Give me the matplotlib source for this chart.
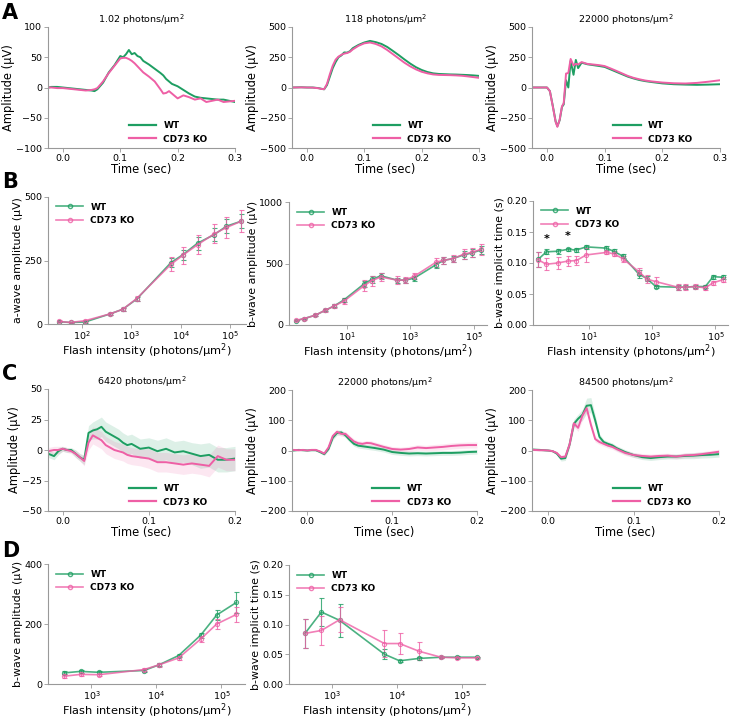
import matplotlib
matplotlib.use("Agg")
import matplotlib.pyplot as plt
from matplotlib.lines import Line2D
import numpy as np

# Colours
WT_COLOR = "#1e9e62"
KO_COLOR = "#ee5fa5"
SPINE_COLOR = "#999999"

# ---------------- Panel A: averaged ERG traces ----------------
t_a1 = [-0.025, -0.02, -0.01, 0.0, 0.01, 0.02, 0.03, 0.04, 0.05, 0.055, 0.06, 0.07, 0.08, 0.09,
        0.10, 0.105, 0.11, 0.115, 0.12, 0.125, 0.13, 0.135, 0.14, 0.15, 0.16, 0.17, 0.175, 0.18,
        0.185, 0.19, 0.20, 0.21, 0.22, 0.23, 0.24, 0.25, 0.26, 0.27, 0.28, 0.29, 0.30]
a1_wt = [0, 1, 1, 0, -1, -2, -3, -4, -5, -6, -3, 8, 25, 37, 52, 50, 55, 62, 55, 57,
         52, 50, 44, 38, 31, 24, 20, 14, 10, 6, 2, -4, -10, -15, -17, -18, -19, -20, -20, -22, -24]
a1_ko = [0, 0, -1, -1, -2, -3, -4, -5, -4, -3, -1, 10, 24, 36, 48, 49, 49, 47, 44, 40,
         35, 30, 25, 18, 10, -3, -10, -9, -6, -10, -18, -13, -16, -20, -18, -24, -22, -20, -24, -23, -22]

t_a2 = [-0.025, -0.01, 0.0, 0.01, 0.02, 0.025, 0.03, 0.035, 0.04, 0.045, 0.05, 0.055, 0.06, 0.065,
        0.07, 0.075, 0.08, 0.09, 0.10, 0.11, 0.12, 0.13, 0.14, 0.15, 0.16, 0.17, 0.18, 0.19, 0.20,
        0.21, 0.22, 0.23, 0.24, 0.25, 0.26, 0.27, 0.28, 0.29, 0.30]
a2_wt = [0, 2, 0, 0, -5, -10, -15, 20, 90, 160, 210, 250, 265, 290, 288, 300, 325, 352, 372, 385,
         375, 360, 335, 302, 268, 232, 198, 168, 145, 128, 117, 112, 110, 108, 107, 105, 103, 100, 96]
a2_ko = [0, 1, 0, -1, -6, -12, -14, 30, 110, 180, 230, 255, 270, 280, 285, 295, 315, 345, 365, 372,
         360, 340, 310, 275, 240, 205, 175, 150, 130, 117, 108, 104, 103, 102, 100, 97, 92, 86, 80]

t_a3 = [-0.025, -0.01, 0.0, 0.005, 0.01, 0.015, 0.018, 0.022, 0.026, 0.029, 0.033, 0.037, 0.041,
        0.046, 0.05, 0.054, 0.06, 0.07, 0.08, 0.09, 0.10, 0.11, 0.12, 0.13, 0.14, 0.15, 0.16, 0.17,
        0.18, 0.19, 0.20, 0.22, 0.24, 0.26, 0.28, 0.30]
a3_wt = [0, 0, 0, -30, -150, -280, -320, -270, -160, -140, 60, 0, 220, 105, 228, 160, 205, 192,
         185, 178, 170, 150, 130, 110, 90, 75, 62, 53, 46, 40, 34, 27, 24, 22, 24, 27]
a3_ko = [0, 0, 0, -30, -155, -285, -325, -265, -155, -130, 115, 120, 236, 182, 196, 190, 210, 195,
         190, 185, 177, 158, 138, 117, 96, 80, 68, 58, 51, 46, 41, 35, 33, 38, 48, 60]

# ---------------- Panel B: intensity-response ----------------
intens_b1 = [35, 60, 118, 380, 680, 1300, 6420, 11000, 22000, 48000, 84500, 170000]
a_wt = [9, 6, 8, 40, 58, 98, 242, 272, 318, 352, 385, 405]
a_wt_err = [3, 2, 3, 4, 5, 8, 18, 20, 25, 25, 28, 28]
a_ko = [10, 6, 13, 40, 58, 100, 235, 270, 312, 355, 380, 405]
a_ko_err = [4, 3, 4, 5, 6, 10, 28, 32, 38, 38, 40, 42]

intens_b = [0.25, 0.45, 1.02, 2.1, 4.0, 8.2, 35, 60, 118, 380, 680, 1300,
            6420, 11000, 22000, 48000, 84500, 170000]
b_wt = [35, 52, 80, 120, 155, 205, 335, 370, 400, 365, 365, 380, 490, 525, 540, 570, 585, 610]
b_wt_err = [5, 6, 8, 10, 12, 15, 25, 25, 25, 20, 20, 20, 25, 25, 25, 30, 30, 32]
b_ko = [38, 52, 80, 120, 155, 195, 320, 360, 390, 365, 365, 395, 510, 525, 540, 575, 590, 615]
b_ko_err = [6, 8, 10, 12, 15, 25, 45, 40, 35, 30, 25, 25, 35, 30, 30, 40, 40, 45]

bt_wt = [0.106, 0.118, 0.119, 0.122, 0.121, 0.126, 0.124, 0.119, 0.111, 0.082, 0.075, 0.062,
         0.061, 0.061, 0.062, 0.062, 0.078, 0.077]
bt_wt_err = [0.012, 0.004, 0.004, 0.003, 0.003, 0.003, 0.003, 0.003, 0.003, 0.006, 0.004, 0.003,
             0.004, 0.003, 0.003, 0.003, 0.003, 0.003]
bt_ko = [0.105, 0.098, 0.100, 0.103, 0.104, 0.113, 0.117, 0.115, 0.107, 0.086, 0.074, 0.070,
         0.061, 0.061, 0.062, 0.060, 0.068, 0.073]
bt_ko_err = [0.012, 0.010, 0.010, 0.008, 0.008, 0.012, 0.003, 0.004, 0.005, 0.006, 0.006, 0.007,
             0.005, 0.005, 0.004, 0.004, 0.003, 0.004]
star_x = [0.45, 2.1]
star_y = [0.131, 0.135]

# ---------------- Panel C: traces with SEM bands ----------------
t_c = [-0.017, -0.01, -0.005, 0.0, 0.005, 0.01, 0.015, 0.02, 0.025, 0.03, 0.035, 0.04, 0.045,
       0.05, 0.055, 0.06, 0.065, 0.07, 0.075, 0.08, 0.09, 0.10, 0.11, 0.12, 0.13, 0.14, 0.15,
       0.16, 0.17, 0.18, 0.19, 0.20]
c1_wt = [-3, -5, -1, 1, 0, 0, -3, -6, -8, 14, 16, 17, 19, 15, 13, 11, 9, 6, 4, 5, 1, 2, -1, 1,
         -2, -1, -3, -5, -4, -8, -8, -7]
c1_wt_sd = [3, 3, 3, 2, 2, 2, 3, 3, 4, 6, 7, 8, 8, 8, 8, 8, 8, 8, 8, 8, 8, 8, 9, 9, 9, 9, 9,
            10, 10, 10, 10, 10]
c1_ko = [-1, 0, 0, 1, 0, -1, -3, -6, -9, 6, 12, 10, 8, 4, 2, 0, -1, -2, -4, -5, -6, -7, -10,
         -10, -11, -12, -11, -12, -13, -5, -8, -8]
c1_ko_sd = [3, 3, 3, 2, 2, 2, 3, 3, 4, 6, 7, 7, 7, 7, 7, 7, 7, 7, 7, 7, 7, 8, 8, 8, 8, 8, 8,
            8, 9, 9, 9, 9]

c2_wt = [0, 2, 1, 0, 1, 1, -5, -12, 5, 42, 58, 60, 50, 35, 22, 16, 14, 12, 10, 8, 3, -5, -8,
         -10, -9, -10, -9, -8, -8, -7, -5, -4]
c2_wt_sd = [3, 3, 3, 2, 2, 3, 4, 5, 6, 8, 8, 8, 8, 8, 8, 8, 8, 8, 8, 8, 8, 8, 8, 8, 8, 8, 8,
            8, 8, 8, 8, 8]
c2_ko = [2, 1, 2, 0, 2, 2, -3, -10, 10, 48, 62, 55, 55, 42, 30, 24, 22, 25, 24, 20, 12, 5, 3,
         5, 10, 8, 10, 12, 15, 17, 18, 18]
c2_ko_sd = [3, 3, 3, 2, 2, 3, 4, 5, 6, 8, 8, 8, 8, 8, 8, 8, 8, 8, 8, 8, 8, 8, 8, 9, 9, 9, 10,
            10, 10, 10, 10, 10]

c3_wt = [3, 2, 1, 0, -2, -10, -27, -25, 20, 88, 105, 118, 148, 150, 100, 45, 28, 22, 17, 8, -5,
         -15, -22, -25, -22, -20, -20, -18, -17, -15, -14, -12]
c3_wt_sd = [3, 3, 3, 2, 3, 5, 8, 8, 10, 15, 15, 18, 25, 25, 18, 10, 8, 8, 8, 8, 8, 8, 8, 8, 8,
            8, 8, 9, 10, 10, 10, 10]
c3_ko = [2, 1, 1, 0, -2, -8, -22, -20, 20, 90, 75, 115, 140, 85, 38, 28, 22, 16, 12, 5, -8,
         -15, -18, -20, -18, -17, -20, -16, -15, -12, -8, -4]
c3_ko_sd = [3, 3, 3, 2, 3, 5, 7, 7, 10, 12, 12, 15, 15, 12, 10, 8, 8, 8, 8, 8, 8, 8, 8, 8, 8,
            8, 8, 8, 8, 8, 8, 8]

# ---------------- Panel D ----------------
intens_d = [380, 680, 1300, 6420, 11000, 22000, 48000, 84500, 170000]
d_amp_wt = [37, 42, 39, 45, 64, 95, 163, 230, 272]
d_amp_wt_err = [5, 5, 4, 4, 5, 6, 8, 18, 35]
d_amp_ko = [26, 32, 31, 48, 64, 87, 150, 200, 232]
d_amp_ko_err = [6, 6, 4, 4, 6, 6, 10, 18, 25]
d_time_wt = [0.085, 0.121, 0.107, 0.050, 0.039, 0.043, 0.045, 0.045, 0.045]
d_time_wt_err = [0.024, 0.023, 0.028, 0.008, 0.002, 0.002, 0.001, 0.002, 0.001]
d_time_ko = [0.085, 0.090, 0.108, 0.068, 0.068, 0.055, 0.045, 0.044, 0.044]
d_time_ko_err = [0.024, 0.024, 0.021, 0.022, 0.018, 0.015, 0.002, 0.002, 0.002]

UNIT = "photons/µm$^2$"
FLASH_LABEL = "Flash intensity (" + UNIT + ")"

W, H = 730, 721
fig = plt.figure(figsize=(W / 100, H / 100), dpi=100)


def px_axes(l, t, r, b):
    return fig.add_axes([l / W, 1 - b / H, (r - l) / W, (b - t) / H])


def style(ax):
    for s in ["top", "right"]:
        ax.spines[s].set_visible(False)
    for s in ["left", "bottom"]:
        ax.spines[s].set_color(SPINE_COLOR)
        ax.spines[s].set_linewidth(0.8)
    ax.tick_params(length=3, width=0.6, color=SPINE_COLOR, labelsize=6.8, pad=1.2)
    ax.tick_params(which="minor", length=0)


def trace_legend(ax):
    handles = [Line2D([], [], color=WT_COLOR, lw=1.6), Line2D([], [], color=KO_COLOR, lw=1.6)]
    ax.legend(handles, ["WT", "CD73 KO"], loc="lower left", bbox_to_anchor=(0.39, -0.03),
              frameon=False, prop={"weight": "bold", "size": 6.5}, handlelength=3.0,
              labelspacing=0.5)


def trace_panel(ax, t, wt, ko, title, ylim, yticks, xlim, xticks, wt_sd=None, ko_sd=None):
    if wt_sd is not None:
        ax.fill_between(t, np.array(wt) - wt_sd, np.array(wt) + wt_sd, color=WT_COLOR,
                        alpha=0.15, lw=0)
        ax.fill_between(t, np.array(ko) - ko_sd, np.array(ko) + ko_sd, color=KO_COLOR,
                        alpha=0.15, lw=0)
    ax.plot(t, wt, color=WT_COLOR, lw=1.4)
    ax.plot(t, ko, color=KO_COLOR, lw=1.4)
    ax.set_xlim(*xlim)
    ax.set_ylim(*ylim)
    ax.set_yticks(yticks)
    ax.set_xticks(xticks)
    ax.set_xticklabels([f"{v:.1f}" for v in xticks])
    ax.set_title(title, fontsize=6.8, pad=3)
    ax.set_ylabel("Amplitude (µV)", fontsize=8.3, labelpad=1)
    ax.set_xlabel("Time (sec)", fontsize=8.3, labelpad=0)
    style(ax)
    trace_legend(ax)


def ir_panel(ax, x, wt, wt_err, ko, ko_err, ylim, yticks, xlim, xticks, ylabel, yfmt=None):
    for y, e, c in [(wt, wt_err, WT_COLOR), (ko, ko_err, KO_COLOR)]:
        ax.errorbar(x, y, yerr=e, color=c, marker="o", mfc="none", ms=3, mew=0.8, lw=1.2,
                    capsize=1.8, elinewidth=0.8, capthick=0.8, alpha=0.8)
    ax.set_xscale("log")
    ax.set_xlim(*xlim)
    ax.set_ylim(*ylim)
    ax.set_yticks(yticks)
    if yfmt:
        ax.set_yticklabels([yfmt.format(v) for v in yticks])
    ax.set_xticks(xticks)
    ax.set_ylabel(ylabel, fontsize=7.9, labelpad=1)
    ax.set_xlabel(FLASH_LABEL, fontsize=8.2, labelpad=-1)
    style(ax)
    handles = [Line2D([], [], color=WT_COLOR, marker="o", mfc="none", ms=3, lw=1.2, alpha=0.8),
               Line2D([], [], color=KO_COLOR, marker="o", mfc="none", ms=3, lw=1.2, alpha=0.8)]
    ax.legend(handles, ["WT", "CD73 KO"], loc="upper left", bbox_to_anchor=(0.0, 1.02),
              frameon=False, prop={"weight": "bold", "size": 6.5}, handlelength=3.0,
              labelspacing=0.5)


# Row A
t_lim = (-0.026, 0.3)
t_ticks = [0.0, 0.1, 0.2, 0.3]
trace_panel(px_axes(48, 27, 235, 148), t_a1, a1_wt, a1_ko, "1.02 " + UNIT,
            (-100, 100), [-100, -50, 0, 50, 100], t_lim, t_ticks)
trace_panel(px_axes(292, 27, 479, 148), t_a2, a2_wt, a2_ko, "118 " + UNIT,
            (-500, 500), [-500, -250, 0, 250, 500], t_lim, t_ticks)
trace_panel(px_axes(532, 27, 720, 148), t_a3, a3_wt, a3_ko, "22000 " + UNIT,
            (-500, 500), [-500, -250, 0, 250, 500], t_lim, t_ticks)

# Row B
ir_panel(px_axes(48, 197, 246, 324), intens_b1, a_wt, a_wt_err, a_ko, a_ko_err,
         (0, 500), [0, 250, 500], (21, 2.1e5), [1e2, 1e3, 1e4, 1e5], "a-wave amplitude (µV)")
ir_panel(px_axes(289, 202, 487, 325), intens_b, b_wt, b_wt_err, b_ko, b_ko_err,
         (0, 1000), [0, 500, 1000], (0.15, 2.6e5), [1e1, 1e3, 1e5], "b-wave amplitude (µV)")
ax_b3 = px_axes(533, 201, 728, 325)
ir_panel(ax_b3, intens_b, bt_wt, bt_wt_err, bt_ko, bt_ko_err,
         (0, 0.2), [0, 0.05, 0.10, 0.15, 0.20], (0.17, 2.5e5), [1e1, 1e3, 1e5],
         "b-wave implicit time (s)", yfmt="{:.2f}")
for sx, sy in zip(star_x, star_y):
    ax_b3.text(sx, sy, "*", ha="center", va="bottom", fontsize=8, fontweight="bold")

# Row C
c_ticks = [0.0, 0.1, 0.2]
trace_panel(px_axes(48, 389, 235, 511), t_c, c1_wt, c1_ko, "6420 " + UNIT,
            (-50, 50), [-50, -25, 0, 25, 50], (-0.017, 0.2), c_ticks, c1_wt_sd, c1_ko_sd)
trace_panel(px_axes(292, 390, 477, 511), t_c, c2_wt, c2_ko, "22000 " + UNIT,
            (-200, 200), [-200, -100, 0, 100, 200], (-0.018, 0.2), c_ticks, c2_wt_sd, c2_ko_sd)
trace_panel(px_axes(532, 390, 719, 511), t_c, c3_wt, c3_ko, "84500 " + UNIT,
            (-200, 200), [-200, -100, 0, 100, 200], (-0.019, 0.2), c_ticks, c3_wt_sd, c3_ko_sd)

# Row D
ir_panel(px_axes(48, 564, 245, 684), intens_d, d_amp_wt, d_amp_wt_err, d_amp_ko, d_amp_ko_err,
         (0, 400), [0, 200, 400], (215, 2.3e5), [1e3, 1e4, 1e5], "b-wave amplitude (µV)")
ir_panel(px_axes(289, 565, 485, 684), intens_d, d_time_wt, d_time_wt_err, d_time_ko,
         d_time_ko_err, (0, 0.2), [0, 0.05, 0.10, 0.15, 0.20], (215, 2.3e5), [1e3, 1e4, 1e5],
         "b-wave implicit time (s)", yfmt="{:.2f}")

# Panel letters
for letter, top in [("A", 3), ("B", 172), ("C", 364), ("D", 541)]:
    fig.text(2 / W, 1 - top / H, letter, fontsize=15, fontweight="bold", va="top", ha="left")

fig.savefig("out.png", dpi=100)
